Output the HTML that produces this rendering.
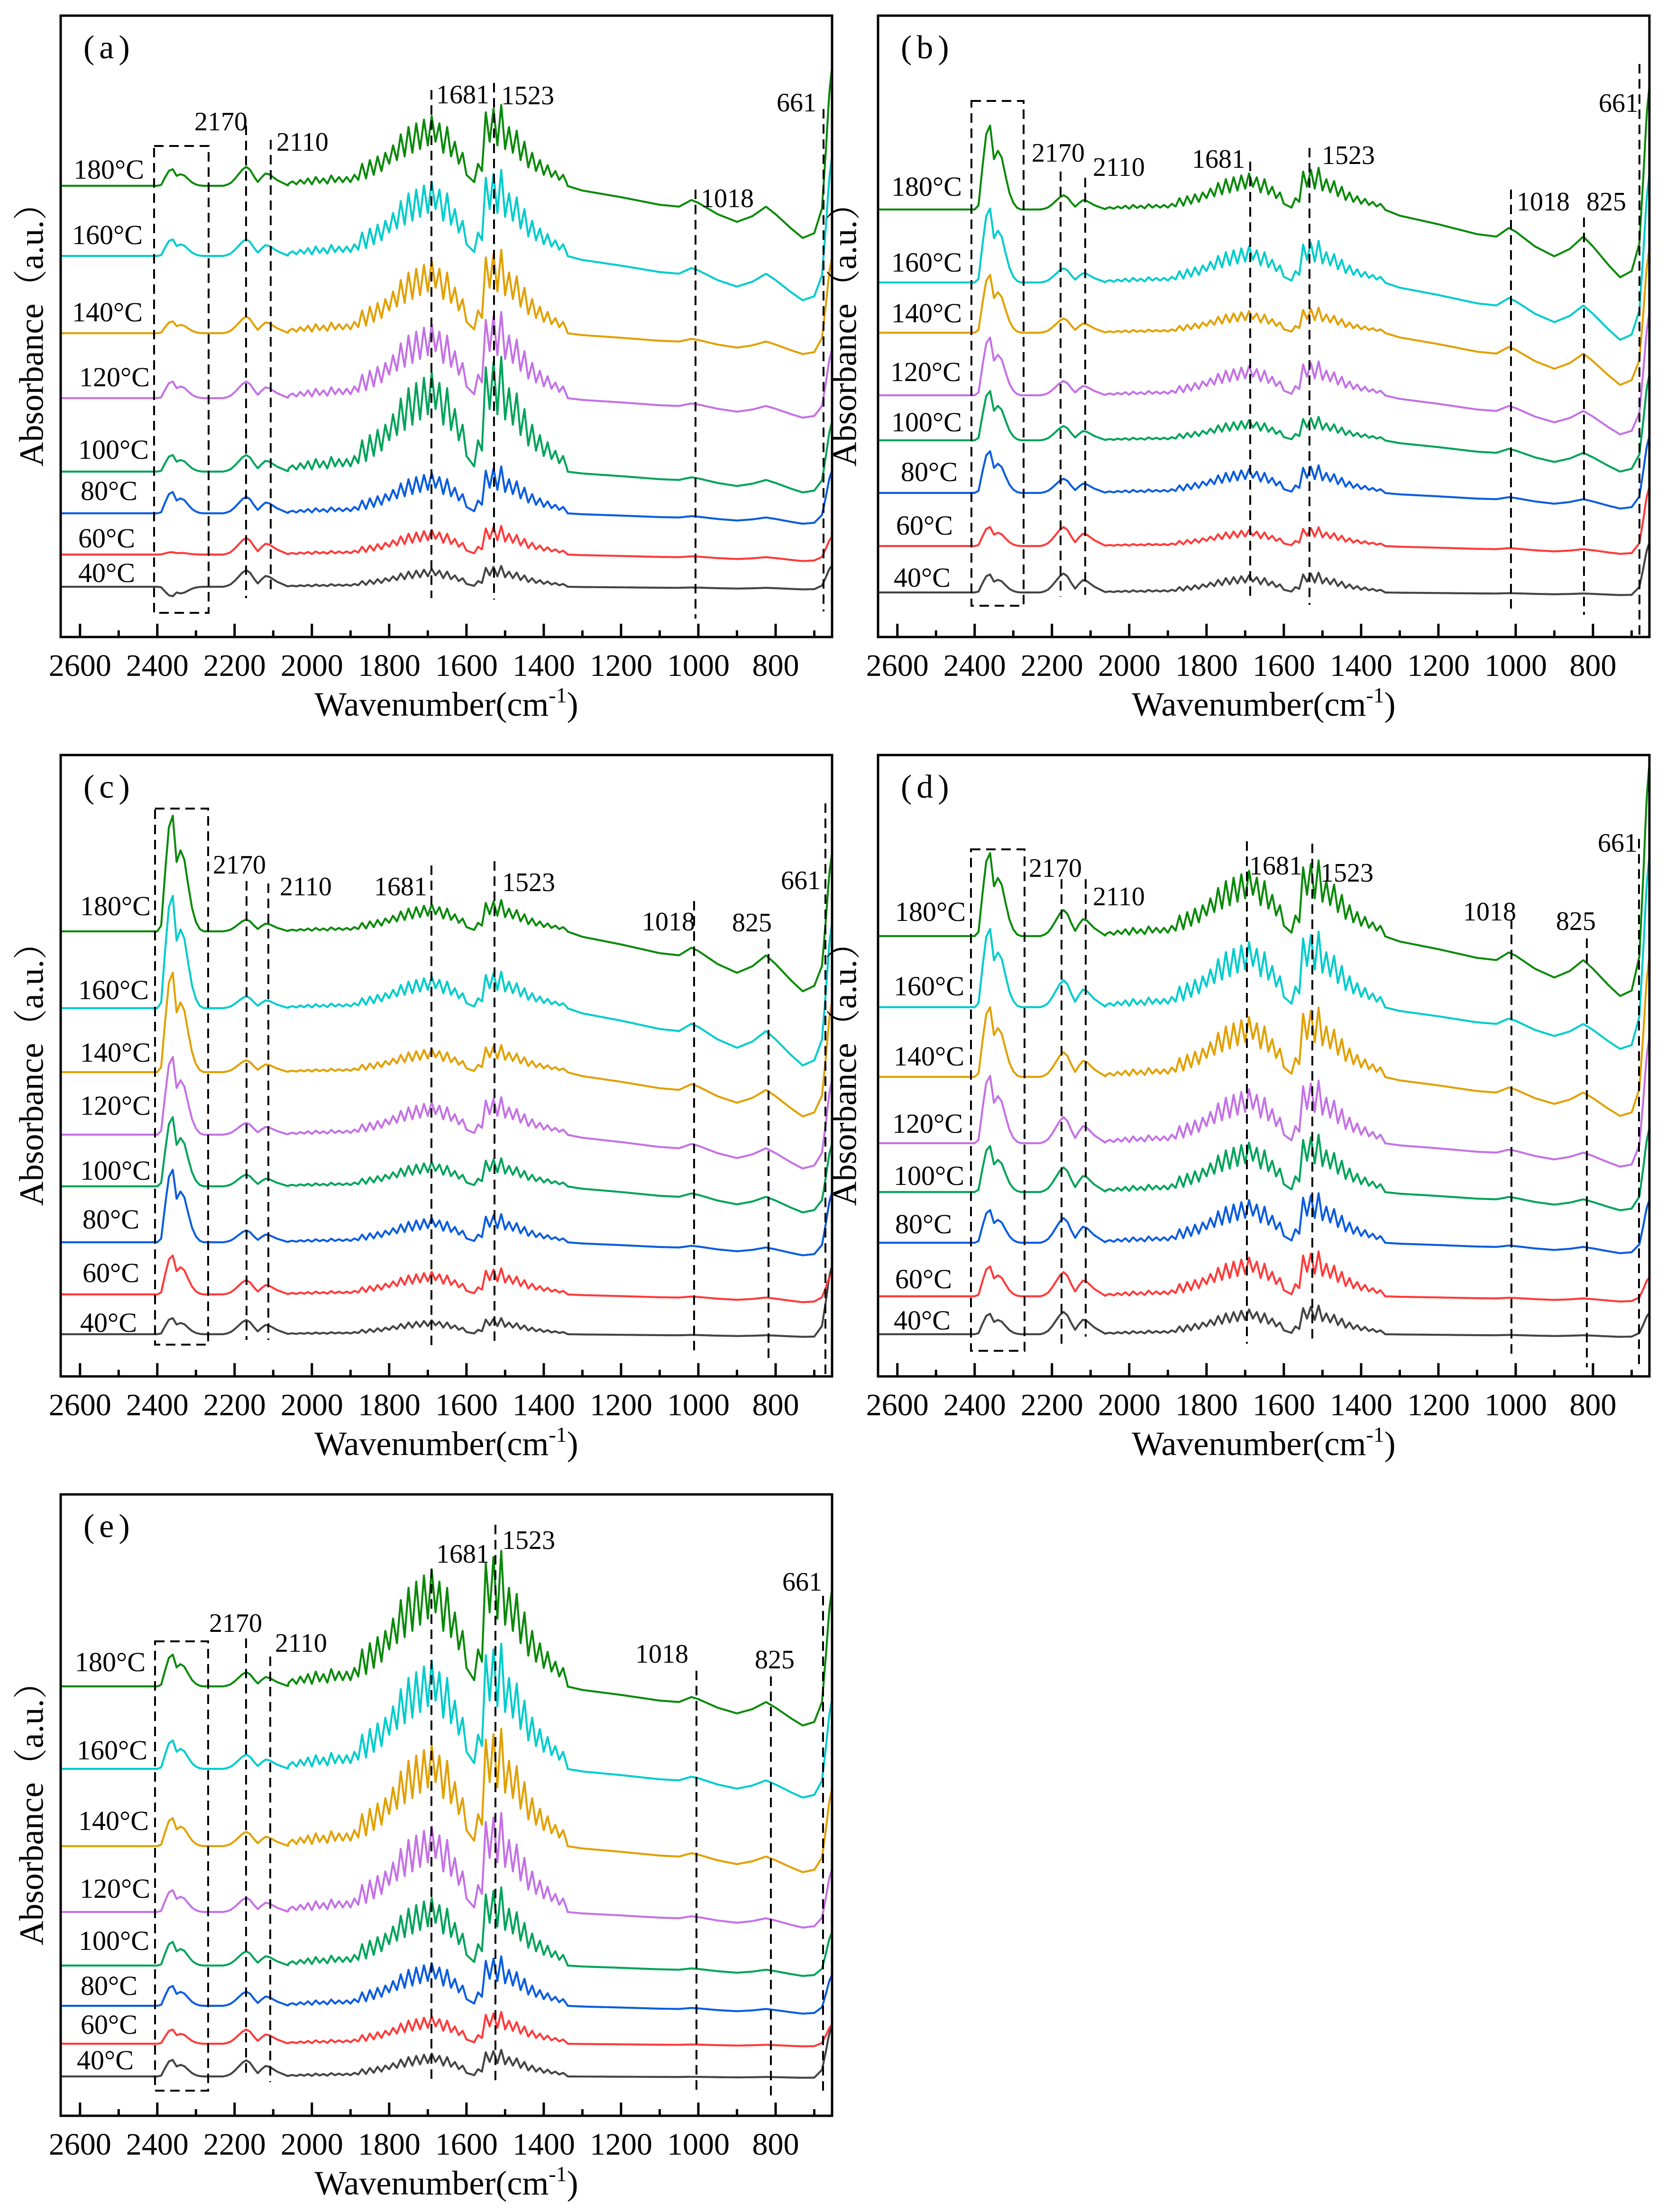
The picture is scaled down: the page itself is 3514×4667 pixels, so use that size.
<!DOCTYPE html>
<html><head><meta charset="utf-8"><title>FTIR spectra panels</title>
<style>
html,body{margin:0;padding:0;background:#fff;}
svg{display:block;}
text{font-family:"Liberation Serif","Noto Serif CJK SC",serif;fill:#000;}
</style></head>
<body>
<svg id="fig" xmlns="http://www.w3.org/2000/svg" width="3514" height="4667" viewBox="0 0 3514 4667">
<rect x="0" y="0" width="3514" height="4667" fill="#fff"/>
</svg>
<script>
// ---- shared data ----
const temps = ["40°C","60°C","80°C","100°C","120°C","140°C","160°C","180°C"];
const colors = ["#444444","#ff3a3a","#0a5ce0","#00a35a","#c471e6","#e2a000","#00cccc","#0a8a0a"];
const xTicksMajor = [2600,2400,2200,2000,1800,1600,1400,1200,1000,800];
const xTicksMinor = [2500,2300,2100,1900,1700,1500,1300,1100,900,700];
const co2Wn = [2410,2400,2390,2380,2370,2360,2350,2340,2330,2320,2310,2300,2290,2280,2270];
const co2Shape = [0,0,0.05,0.5,0.9,1.0,0.6,0.7,0.62,0.4,0.2,0.08,0.02,0,0];
const coWn = [2230,2220,2210,2200,2190,2180,2170,2160,2150,2140,2130,2120,2110,2100,2090,2080,2070,2060];
const coShape = [0,0.05,0.15,0.35,0.6,0.85,1.0,0.85,0.5,0.2,0.45,0.65,0.6,0.45,0.3,0.2,0.1,0];
const waterShape = [0.03,0.06,0.02,0.08,0.03,0.1,0.02,0.12,0.04,0.1,0.03,0.14,0.05,0.12,
 0.05,0.12,0.05,0.15,0.08,0.3,0.1,0.35,0.15,0.4,0.2,0.45,0.3,0.55,0.35,0.7,0.4,0.8,0.45,0.85,
 0.5,0.9,0.55,0.95,0.6,0.85,0.45,0.8,0.4,0.6,0.3,0.45,0.15,0.1,0.05,0.3,0.2,1.0,0.6,1.05,
 0.55,1.1,0.5,0.8,0.45,0.75,0.35,0.6,0.25,0.45,0.2,0.35,0.15,0.28,0.12,0.2,0.08,0.15,0.03];
const waterWn = waterShape.map((_, i) => 2060 - 10 * i);
const tailWn = [1340,1300,1200,1100,1050,1018,1000,950,900,860,825,800,760,730,700,680,654];
const tailShape = [0,-0.05,-0.12,-0.2,-0.22,-0.15,-0.18,-0.3,-0.38,-0.32,-0.22,-0.3,-0.45,-0.55,-0.5,-0.5,-0.5];
const edgeWn = [700,680,670,661,654];
const edgeShape = [0,0.15,0.5,0.85,1.0];

// ---- per-panel series data (order 40..180 °C) ----
const aBase = [1238,1170,1083,995,840,703,540,392];
const aCo2 = [-20,5,45,35,35,25,35,35];
const aCo = [35,35,35,35,35,35,35,40];
const aWater = [40,55,90,220,165,160,165,155];
const aTail = [10,25,40,80,75,80,170,200];
const aEdge = [50,50,110,145,140,200,295,350];

const bBase = [1250,1152,1040,929,834,702,596,442];
const bCo2 = [38,40,88,104,122,122,156,177];
const bCo = [40,40,30,30,30,30,30,30];
const bWater = [38,36,53,45,65,48,80,80];
const bTail = [10,30,60,120,150,200,220,260];
const bEdge = [110,140,150,200,250,280,340,390];

const cBase = [2815,2731,2621,2503,2394,2262,2127,1965];
const cCo2 = [34,82,153,146,164,210,237,244];
const cCo = [30,30,25,25,25,25,25,25];
const cWater = [31,50,54,54,72,52,70,60];
const cTail = [10,30,50,100,130,170,220,230];
const cEdge = [150,60,130,140,180,235,290,280];

const dBase = [2815,2735,2622,2515,2412,2272,2125,1975];
const dCo2 = [43,63,69,97,142,147,165,175];
const dCo = [47,51,52,52,55,52,57,55];
const dWater = [55,86,95,110,120,133,145,145];
const dTail = [10,20,40,70,90,150,160,230];
const dEdge = [50,50,110,170,270,330,400,480];

const eBase = [4381,4312,4232,4147,4034,3895,3732,3558];
const eCo2 = [35,30,42,50,46,59,60,67];
const eCo = [34,30,30,30,30,30,30,30];
const eWater = [51,61,95,150,190,225,240,260];
const eTail = [5,10,30,40,60,100,110,150];
const eEdge = [110,45,80,90,120,170,200,280];

const W = 1627, H = 1311, WN_MAX = 2650, WN_MIN = 654;
const NS = "http://www.w3.org/2000/svg";
const svg = document.getElementById('fig');

function mk(tag, attrs, parent) {
  const el = document.createElementNS(NS, tag);
  for (const k in attrs) el.setAttribute(k, attrs[k]);
  (parent || svg).appendChild(el);
  return el;
}
function interp(wn, grid, vals) {
  if (wn > grid[0] || wn < grid[grid.length - 1]) return 0;
  for (let i = 0; i < grid.length - 1; i++) {
    if (wn <= grid[i] && wn >= grid[i + 1]) {
      const t = (grid[i] - wn) / (grid[i] - grid[i + 1]);
      return vals[i] + t * (vals[i + 1] - vals[i]);
    }
  }
  return 0;
}

const panels = [
  {id:'a', x0:128, y0:33, base:aBase, co2:aCo2, co:aCo, water:aWater, tail:aTail, edge:aEdge, labX:[165,165,170,165,167,152,152,155],
   labY:[1228,1155,1055,968,815,678,515,377], yTitleX:74,
   box:[325,440,308,1293],
   lines:[[519,265,1262],[571,295,1255],[910,190,1262],[1042,175,1265],[1467,400,1305],[1737,230,1290]],
   labels:[["2170",410,275,'start'],["2110",583,318,'start'],["1681",920,218,'start'],["1523",1057,220,'start'],["1018",1478,437,'start'],["661",1722,235,'end']]},
  {id:'b', x0:1852, y0:33, base:bBase, co2:bCo2, co:bCo, water:bWater, tail:bTail, edge:bEdge, labX:[1885,1890,1900,1880,1878,1880,1880,1880],
   labY:[1238,1128,1015,910,804,680,573,413], yTitleX:1789,
   box:[2049,2159,213,1278],
   lines:[[2237,362,1259],[2289,375,1255],[2637,341,1263],[2762,312,1276],[3187,400,1293],[3341,459,1297],[3458,135,1344]],
   labels:[["2170",2176,341,'start'],["2110",2305,371,'start'],["1681",2514,354,'start'],["1523",2788,346,'start'],["1018",3199,444,'start'],["825",3346,444,'start'],["661",3372,236,'start']]},
  {id:'c', x0:128, y0:1593, base:cBase, co2:cCo2, co:cCo, water:cWater, tail:cTail, edge:cEdge, labX:[169,174,174,169,169,169,165,169],
   labY:[2810,2705,2592,2489,2352,2240,2108,1931], yTitleX:74,
   box:[327,439,1706,2837],
   lines:[[520,1859,2827],[566,1864,2827],[910,1826,2840],[1043,1817,2834],[1464,1901,2853],[1621,1981,2869],[1741,1695,2904]],
   labels:[["2170",449,1843,'start'],["2110",590,1889,'start'],["1681",789,1889,'start'],["1523",1059,1880,'start'],["1018",1354,1963,'start'],["825",1544,1965,'start'],["661",1647,1876,'start']]},
  {id:'d', x0:1852, y0:1593, base:dBase, co2:dCo2, co:dCo, water:dWater, tail:dTail, edge:dEdge, labX:[1885,1888,1888,1885,1882,1885,1885,1888],
   labY:[2805,2718,2602,2500,2390,2248,2100,1943], yTitleX:1789,
   box:[2048,2161,1792,2850],
   lines:[[2239,1855,2835],[2290,1855,2820],[2630,1775,2835],[2768,1780,2835],[3188,1940,2865],[3347,1980,2885],[3457,1770,2890]],
   labels:[["2170",2170,1850,'start'],["2110",2305,1910,'start'],["1681",2635,1845,'start'],["1523",2785,1860,'start'],["1018",3086,1942,'start'],["825",3282,1962,'start'],["661",3370,1797,'start']]},
  {id:'e', x0:128, y0:3153, base:eBase, co2:eCo2, co:eCo, water:eWater, tail:eTail, edge:eEdge, labX:[162,170,170,166,168,165,162,158],
   labY:[4366,4291,4209,4114,4004,3861,3712,3526], yTitleX:74,
   box:[327,439,3463,4411],
   lines:[[519,3457,4383],[570,3495,4393],[910,3310,4396],[1045,3217,4396],[1469,3525,4417],[1626,3537,4429],[1736,3367,4413]],
   labels:[["2170",441,3443,'start'],["2110",580,3485,'start'],["1681",920,3297,'start'],["1523",1059,3268,'start'],["1018",1340,3508,'start'],["825",1592,3520,'start'],["661",1650,3356,'start']]}
];

panels.forEach(p => {
  const xs = wn => p.x0 + (WN_MAX - wn) * (W / (WN_MAX - WN_MIN));
  const g = mk('g', {});
  
  

  const cp = mk('clipPath', {id: 'clip-' + p.id}, g);
  mk('rect', {x: p.x0, y: p.y0, width: W, height: H}, cp);

  const sg = mk('g', {'clip-path': 'url(#clip-' + p.id + ')'}, g);
  
  
  for (let s = 0; s < temps.length; s++) {
    let d = '';
    for (let wn = WN_MAX; wn >= WN_MIN; wn -= 2) {
      const v = p.co2[s] * interp(wn, co2Wn, co2Shape) + p.co[s] * interp(wn, coWn, coShape) +
                p.water[s] * interp(wn, waterWn, waterShape) + p.tail[s] * interp(wn, tailWn, tailShape) +
                p.edge[s] * interp(wn, edgeWn, edgeShape);
      const y = p.base[s] - v;
      d += (d ? 'L' : 'M') + xs(wn).toFixed(1) + ',' + y.toFixed(1);
    }
    const path = mk('path', {d: d, fill: 'none', stroke: colors[s], 'stroke-width': 4.2, 'stroke-linejoin': 'round'}, sg);
    
    
    const lt = mk('text', {x: p.labX[s], y: p.labY[s], 'font-size': 58}, g);
    
    
    lt.textContent = temps[s];
  }

  const [bx1, bx2, by1, by2] = p.box;
  const box = mk('rect', {x: bx1, y: by1, width: bx2 - bx1, height: by2 - by1, fill: 'none', stroke: '#000', 'stroke-width': 4, 'stroke-dasharray': '20 12'}, g);
  
  
  p.lines.forEach(l => {
    const ln = mk('line', {x1: l[0], x2: l[0], y1: l[1], y2: l[2], stroke: '#000', 'stroke-width': 4, 'stroke-dasharray': '20 12'}, g);
    
    
  });
  p.labels.forEach(l => {
    const t = mk('text', {x: l[1], y: l[2], 'font-size': 56, 'text-anchor': l[3]}, g);
    
    
    t.textContent = l[0];
  });

  const fr = mk('rect', {x: p.x0, y: p.y0, width: W, height: H, fill: 'none', stroke: '#000', 'stroke-width': 5}, g);
  
  
  const bottom = p.y0 + H;
  xTicksMajor.forEach(v => {
    const tk = mk('line', {x1: xs(v), x2: xs(v), y1: bottom, y2: bottom - 28, stroke: '#000', 'stroke-width': 5}, g);
    
    
    const tl = mk('text', {x: xs(v), y: bottom + 82, 'font-size': 66, 'text-anchor': 'middle'}, g);
    
    
    tl.textContent = v;
  });
  xTicksMinor.forEach(v => {
    const tk = mk('line', {x1: xs(v), x2: xs(v), y1: bottom, y2: bottom - 14, stroke: '#000', 'stroke-width': 5}, g);
    
    
  });

  const xt = mk('text', {x: p.x0 + W / 2, y: bottom + 166, 'font-size': 72, 'text-anchor': 'middle'}, g);
  
  
  xt.innerHTML = 'Wavenumber(cm<tspan dy="-28" font-size="46">-1</tspan><tspan dy="28">)</tspan>';

  const cy = p.y0 + H / 2;
  const yt = mk('text', {x: p.yTitleX, y: cy, 'font-size': 72, 'text-anchor': 'middle', 'dominant-baseline': 'middle',
    transform: 'rotate(-90 ' + p.yTitleX + ' ' + cy + ')'}, g);
  
  
  yt.textContent = 'Absorbance（a.u.）';

  const pl = mk('text', {x: p.x0 + 48, y: p.y0 + 90, 'font-size': 70, 'letter-spacing': 10}, g);
  
  
  pl.textContent = '(' + p.id + ')';
});
</script>
</body></html>
